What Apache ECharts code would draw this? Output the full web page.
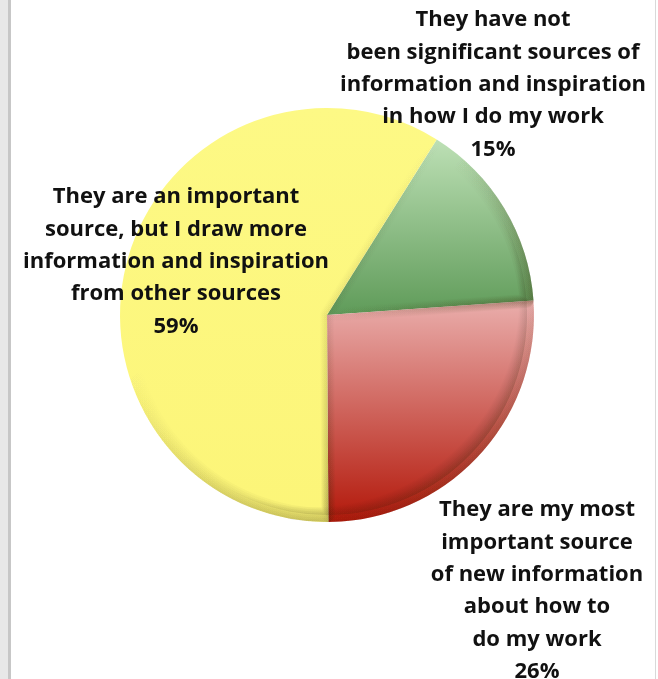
<!DOCTYPE html>
<html>
<head>
<meta charset="utf-8">
<script src="https://cdn.jsdelivr.net/npm/echarts@6/dist/echarts.min.js"></script>
<style>
  html, body { margin: 0; padding: 0; background: #ffffff; }
  #frame { position: relative; width: 658px; height: 679px; overflow: hidden; }
  #edgeL { position: absolute; left: 0; top: 0; width: 8px; height: 679px; background: #e8e8e8; }
  #edgeL2 { position: absolute; left: 8px; top: 0; width: 3px; height: 679px; background: #c7c7c7; }
  #edgeR { position: absolute; left: 655px; top: 0; width: 1px; height: 679px; background: #d9d9d9; }
  #chart { position: absolute; left: 0; top: 0; width: 658px; height: 679px; }
</style>
</head>
<body>
<div id="frame">
  <div id="edgeL"></div>
  <div id="edgeL2"></div>
  <div id="edgeR"></div>
  <div id="chart"></div>
</div>
<script>
// Survey answers, in drawing order (clockwise from the upper right)
const categories = [
  'They have not\nbeen significant sources of\ninformation and inspiration\nin how I do my work',
  'They are my most\nimportant source\nof new information\nabout how to\ndo my work',
  'They are an important\nsource, but I draw more\ninformation and inspiration\nfrom other sources'
];
const shares = [15, 26, 59];

// Slice fills: light at the top, deeper toward the bottom
const sliceFills = [
  ['#bde0b5', '#5f9b59'],
  ['#eaaeac', '#b3180a'],
  ['#fdf985', '#fcf578']
];

// Label blocks: centre x and top y of each text block
const labelSpots = [
  { x: 493, y: 4 },
  { x: 537, y: 494 },
  { x: 176, y: 181 }
];

const cx = 327, cy = 315, R = 207;

const chart = echarts.init(document.getElementById('chart'), null, { renderer: 'canvas' });

const baseData = categories.map((name, i) => ({
  name: name,
  value: shares[i],
  itemStyle: {
    color: {
      type: 'linear', x: 0, y: 0, x2: 0, y2: 1,
      colorStops: [
        { offset: 0, color: sliceFills[i][0] },
        { offset: 1, color: sliceFills[i][1] }
      ]
    }
  }
}));

// Rim darkening, lit from the upper left
const rimShade = {
  type: 'radial', x: cx - 14, y: cy - 14, r: R + 14, global: true,
  colorStops: [
    { offset: 0, color: 'rgba(0,0,0,0)' },
    { offset: 0.93, color: 'rgba(0,0,0,0)' },
    { offset: 1, color: 'rgba(40,30,0,0.22)' }
  ]
};

// Bevel bands along each slice outline: clear on the upper-left, darker toward the lower-right
function bevelSeries(inset, width, alpha, fill) {
  return {
    type: 'pie',
    silent: true,
    center: [cx, cy],
    radius: [0, R - inset],
    startAngle: 58,
    clockwise: true,
    data: categories.map((name, i) => ({ name: name, value: shares[i] })),
    z: 3,
    itemStyle: {
      color: fill || 'rgba(0,0,0,0)',
      borderColor: {
        type: 'linear', x: 0, y: 0, x2: 1, y2: 1,
        colorStops: [
          { offset: 0, color: 'rgba(50,40,0,0)' },
          { offset: 0.4, color: 'rgba(50,40,0,0)' },
          { offset: 1, color: 'rgba(50,40,0,' + alpha + ')' }
        ]
      },
      borderWidth: width
    },
    label: { show: false },
    labelLine: { show: false },
    emphasis: { disabled: true }
  };
}

const bevels = [bevelSeries(7, 14, 0.05, rimShade)];
for (let k = 6; k >= 1; k--) {
  bevels.push(bevelSeries(k, 2 * k, 0.055));
}

chart.setOption({
  animation: false,
  series: [
    {
      type: 'pie',
      center: [cx, cy],
      radius: [0, R],
      startAngle: 58,
      clockwise: true,
      data: baseData,
      z: 2,
      itemStyle: { borderWidth: 0 },
      label: {
        show: true,
        position: 'outside',
        formatter: '{b}\n{c}%',
        color: '#111111',
        fontFamily: 'Open Sans',
        fontWeight: 'bold',
        fontSize: 22,
        lineHeight: 32.3,
        align: 'center',
        width: 400,
        overflow: 'none'
      },
      labelLine: { show: false },
      labelLayout: function (params) {
        const s = labelSpots[params.dataIndex];
        return { x: s.x, y: s.y, align: 'center', verticalAlign: 'top', hideOverlap: false, moveOverlap: false };
      },
      emphasis: { disabled: true }
    }
  ].concat(bevels)
});
</script>
</body>
</html>
